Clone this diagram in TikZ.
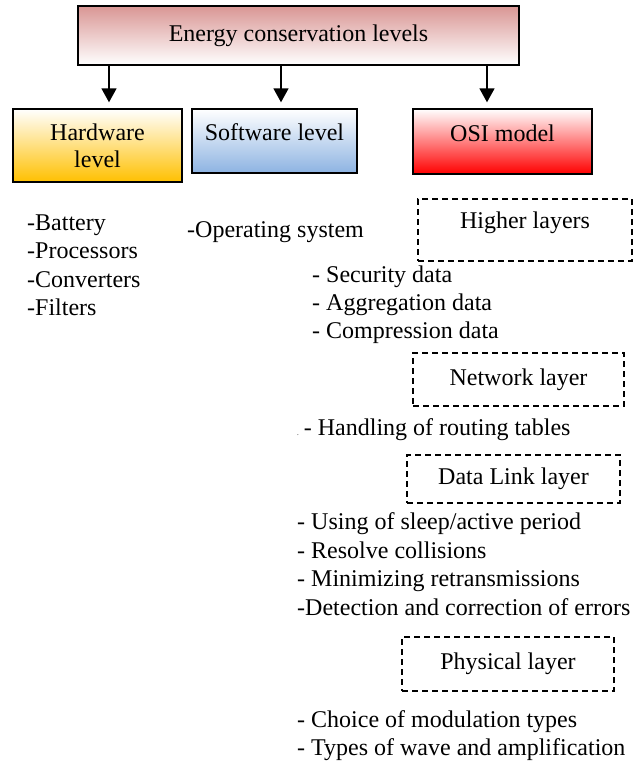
\documentclass[tikz,border=0pt]{standalone}
\usepackage{fontspec}
\setmainfont{Liberation Serif}
\usetikzlibrary{arrows.meta}

\definecolor{toprose}{RGB}{217,150,148}
\definecolor{hworange}{RGB}{255,192,0}
\definecolor{swblue}{RGB}{141,179,226}
\definecolor{osired}{RGB}{255,0,0}

\tikzset{
  lvlbox/.style={draw, line width=1.4pt, inner sep=0pt, align=center},
  layerbox/.style={draw, line width=1.3pt, dash pattern=on 6pt off 4pt, inner sep=0pt},
  arr/.style={line width=1.6pt, -{Triangle[length=14pt,width=15pt]}, shorten >=6pt},
  item/.style={anchor=base west, inner sep=0pt},
}

\begin{document}
\begin{tikzpicture}[x=1pt,y=-1pt,font=\fontsize{24}{27}\selectfont]
   \useasboundingbox (0,0) rectangle (642,761);
   % levels
   \node[lvlbox, minimum width=441pt, minimum height=59pt, top color=toprose, bottom color=white] (top) at (298.5,35.5) {Energy conservation levels};
   \node[lvlbox, minimum width=169pt, minimum height=73pt, top color=white, bottom color=hworange] (hw) at (97.5,145.5) {Hardware\\level};
   \node[lvlbox, minimum width=165pt, minimum height=64pt, text depth=17pt, top color=white, bottom color=swblue] (sw) at (274.5,141) {Software level};
   \node[lvlbox, minimum width=179pt, minimum height=65pt, text depth=17pt, top color=white, bottom color=osired] (osi) at (502.5,141.5) {OSI model};
   \coordinate (a1) at (109,0);
   \coordinate (a2) at (281,0);
   \coordinate (a3) at (487,0);
   \draw[arr] (top.south -| a1) -- (hw.north -| a1);
   \draw[arr] (top.south -| a2) -- (sw.north -| a2);
   \draw[arr] (top.south -| a3) -- (osi.north -| a3);
   % hardware / software
   \node[item] (bat) at (27,230) {-Battery};
   \node[item] (proc) at (27,258) {-Processors};
   \node[item] (conv) at (27,287) {-Converters};
   \node[item] (filt) at (27,315) {-Filters};
   \node[item] (opsys) at (187,237) {-Operating system};
   % OSI layers
   \node[layerbox, minimum width=214pt, minimum height=62pt, text depth=19pt] (higher) at (525,230) {Higher layers};
   \node[item] (sec) at (312,282) {- Security data};
   \node[item] (aggr) at (312,310) {- Aggregation data};
   \node[item] (comp) at (312,338) {- Compression data};
   \node[layerbox, minimum width=211pt, minimum height=53pt] (network) at (518.5,379.5) {Network layer};
   \node[item] (route) at (297,435) {{\scriptsize.}\hspace{5pt}- Handling of routing tables};
   \node[layerbox, minimum width=213pt, minimum height=48pt] (datalink) at (513.5,479) {Data Link layer};
   \node[item] (sleep) at (297,529) {- Using of sleep/active period};
   \node[item] (coll) at (297,558) {- Resolve collisions};
   \node[item] (retr) at (297,586) {- Minimizing retransmissions};
   \node[item] (err) at (297,615) {-Detection and correction of errors};
   \node[layerbox, minimum width=212pt, minimum height=54pt] (physical) at (508,664) {Physical layer};
   \node[item] (modul) at (297,727) {- Choice of modulation types};
   \node[item] (wave) at (297,755) {- Types of wave and amplification};
\end{tikzpicture}
\end{document}
